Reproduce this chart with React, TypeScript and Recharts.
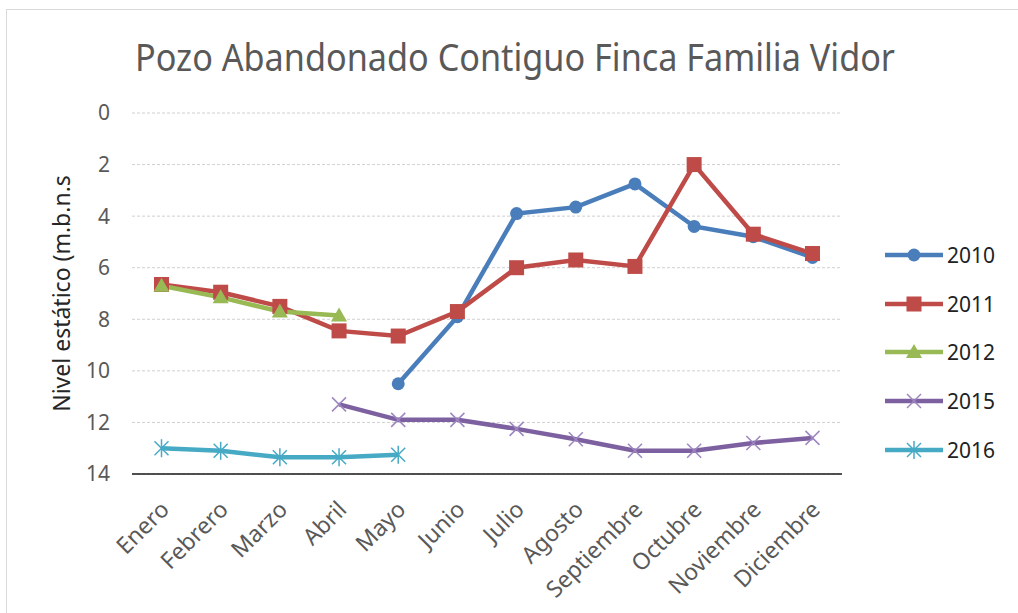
import { LineChart, Line, XAxis, YAxis, CartesianGrid } from "recharts";

const months = [
  "Enero", "Febrero", "Marzo", "Abril", "Mayo", "Junio",
  "Julio", "Agosto", "Septiembre", "Octubre", "Noviembre", "Diciembre",
];

const s2010 = [null, null, null, null, 10.5, 7.9, 3.9, 3.65, 2.75, 4.4, 4.8, 5.6];
const s2011 = [6.65, 6.95, 7.5, 8.45, 8.65, 7.7, 6.0, 5.7, 5.95, 2.0, 4.7, 5.45];
const s2012 = [6.7, 7.15, 7.7, 7.85, null, null, null, null, null, null, null, null];
const s2015 = [null, null, null, 11.3, 11.9, 11.9, 12.25, 12.65, 13.1, 13.1, 12.8, 12.6];
const s2016 = [13.0, 13.1, 13.35, 13.35, 13.25, null, null, null, null, null, null, null];

const yTicks = [0, 2, 4, 6, 8, 10, 12, 14];

const data = months.map((m, i) => ({
  month: m,
  y2010: s2010[i],
  y2011: s2011[i],
  y2012: s2012[i],
  y2015: s2015[i],
  y2016: s2016[i],
}));

const FONT = "'Noto Sans', sans-serif";
const TEXT = "#595959";

const BLUE = "#4a7ebb";
const RED = "#be4b48";
const GREEN = "#98b954";
const PURPLE = "#7d60a0";
const CYAN = "#46aac5";

function marker(kind: string, color: string, cx: number, cy: number, key?: any) {
  if (kind === "circle") return <circle key={key} cx={cx} cy={cy} r={6.5} fill={color} />;
  if (kind === "square") return <rect key={key} x={cx - 7.5} y={cy - 7.5} width={15} height={15} fill={color} />;
  if (kind === "triangle")
    return <polygon key={key} points={`${cx},${cy - 8} ${cx + 8},${cy + 6} ${cx - 8},${cy + 6}`} fill={color} />;
  if (kind === "x")
    return (
      <g key={key} stroke="#9d86c0" strokeWidth={1.5}>
        <line x1={cx - 7} y1={cy - 7} x2={cx + 7} y2={cy + 7} />
        <line x1={cx - 7} y1={cy + 7} x2={cx + 7} y2={cy - 7} />
      </g>
    );
  return (
    <g key={key} stroke={color} strokeWidth={1.5}>
      <line x1={cx - 7} y1={cy - 7} x2={cx + 7} y2={cy + 7} />
      <line x1={cx - 7} y1={cy + 7} x2={cx + 7} y2={cy - 7} />
      <line x1={cx} y1={cy - 9} x2={cx} y2={cy + 9} />
    </g>
  );
}

const dotFor = (kind: string, color: string) => (props: any) => {
  const { cx, cy, value, key, index } = props;
  if (value == null || cx == null || cy == null) return <g key={key ?? index} />;
  return marker(kind, color, cx, cy, key ?? index);
};

const series = [
  { key: "y2010", name: "2010", color: BLUE, kind: "circle" },
  { key: "y2011", name: "2011", color: RED, kind: "square" },
  { key: "y2012", name: "2012", color: GREEN, kind: "triangle" },
  { key: "y2015", name: "2015", color: PURPLE, kind: "x" },
  { key: "y2016", name: "2016", color: CYAN, kind: "star" },
];

const MonthTick = (props: any) => {
  const { x, y, payload } = props;
  const ax = x + 9;
  const ay = y + 29;
  return (
    <text
      x={ax}
      y={ay}
      transform={`rotate(-45, ${ax}, ${ay})`}
      textAnchor="end"
      fill={TEXT}
      fontSize={23}
      fontFamily={FONT}
    >
      {payload.value}
    </text>
  );
};

const LegendBox = () => (
  <div style={{ fontFamily: FONT }}>
    {series.map((s) => (
      <div key={s.key} style={{ display: "flex", alignItems: "center", height: 48.6 }}>
        <svg width={62} height={20}>
          <line x1={2} y1={10} x2={60} y2={10} stroke={s.color} strokeWidth={4.5} />
          {marker(s.kind, s.color, 31, 10)}
        </svg>
        <span style={{ fontSize: 21, color: "#222", marginLeft: 2 }}>{s.name}</span>
      </div>
    ))}
  </div>
);

export default function App() {
  return (
    <div style={{ position: "absolute", left: 0, top: 0, width: 1018, height: 613, background: "#fff", overflow: "hidden" }}>
      <div
        style={{
          position: "absolute",
          left: 6,
          top: 9,
          width: 1100,
          height: 700,
          borderLeft: "1px solid #d9d9d9",
          borderTop: "1px solid #d9d9d9",
        }}
      />
      <svg style={{ position: "absolute", left: 0, top: 0 }} width={1018} height={100}>
        <text
          x={135}
          y={71}
          textLength={760}
          lengthAdjust="spacingAndGlyphs"
          fontSize={38}
          fontFamily={FONT}
          fill={TEXT}
        >
          Pozo Abandonado Contiguo Finca Familia Vidor
        </text>
      </svg>
      <div style={{ position: "absolute", left: 0, top: 0 }}>
        <LineChart
          width={1018}
          height={613}
          data={data}
          margin={{ top: 113, right: 176, bottom: 0, left: 0 }}
        >
          <CartesianGrid vertical={false} stroke="#d0d0d0" strokeDasharray="3 2" />
          <XAxis
            dataKey="month"
            interval={0}
            tickLine={false}
            padding={{ left: 29.5, right: 29.5 }}
            axisLine={{ stroke: "#1a1a1a", strokeWidth: 1.5 }}
            tick={<MonthTick />}
            height={139}
          />
          <YAxis
            reversed
            domain={[0, 14]}
            ticks={yTicks}
            width={132}
            axisLine={false}
            tickLine={false}
            tickMargin={16}
            tick={{ fill: TEXT, fontSize: 21, fontFamily: FONT }}
            label={{
              value: "Nivel estático (m.b.n.s",
              angle: -90,
              position: "insideLeft",
              offset: 62,
              style: { textAnchor: "middle", fill: "#262626", fontSize: 23, fontFamily: FONT },
            }}
          />
          {series.map((s) => (
            <Line
              key={s.key}
              dataKey={s.key}
              name={s.name}
              stroke={s.color}
              strokeWidth={4.5}
              dot={dotFor(s.kind, s.color)}
              activeDot={false}
              isAnimationActive={false}
            />
          ))}
        </LineChart>
      </div>
      <div style={{ position: "absolute", left: 883, top: 231 }}>
        <LegendBox />
      </div>
    </div>
  );
}
